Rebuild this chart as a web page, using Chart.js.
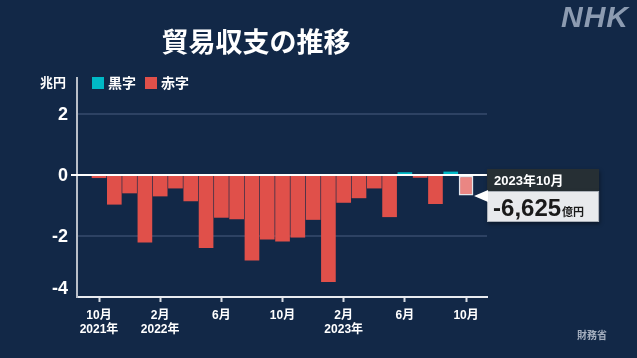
<!DOCTYPE html>
<html><head><meta charset="utf-8">
<script src="https://cdn.jsdelivr.net/npm/chart.js@4.4.1/dist/chart.umd.min.js"></script>
<style>
html,body{margin:0;padding:0;background:#122847;}
#wrap{position:relative;width:637px;height:358px;overflow:hidden;background:#122847;font-family:"Liberation Sans","Noto Sans CJK JP",sans-serif;color:#fff;}
canvas{position:absolute;left:0;top:0;}
.t{position:absolute;white-space:nowrap;font-weight:bold;line-height:1;}
#title{left:0;width:512px;text-align:center;top:27px;font-size:27px;font-family:"Noto Sans CJK JP",sans-serif;}
#nhk{left:561px;top:2px;font-size:30px;font-style:italic;color:#8c9bb1;font-family:"Liberation Sans",Arial,sans-serif;letter-spacing:1px;}
#src{left:577px;top:330px;font-size:10px;color:#a5afbf;font-family:"Noto Sans CJK JP",sans-serif;}
#unit{left:40px;top:75px;font-size:13px;font-family:"Noto Sans CJK JP",sans-serif;}
.sq{position:absolute;width:12px;height:12px;}
.lg{font-size:14px;top:75px;font-family:"Noto Sans CJK JP",sans-serif;}
</style></head>
<body><div id="wrap">
<canvas id="c" width="637" height="358"></canvas>
<div class="t" id="title">貿易収支の推移</div>
<div class="t" id="nhk">NHK</div>
<div class="t" id="src">財務省</div>
<div class="t" id="unit">兆円</div>
<div class="sq" style="left:92px;top:77px;background:#00b9c6"></div>
<div class="t lg" style="left:108px">黒字</div>
<div class="sq" style="left:145px;top:77px;background:#e0504a"></div>
<div class="t lg" style="left:161px">赤字</div>
</div>
<script>
// data (trillion yen)
const months = ['2021年10月','2021年11月','2021年12月','2022年1月','2022年2月','2022年3月','2022年4月','2022年5月','2022年6月','2022年7月','2022年8月','2022年9月','2022年10月','2022年11月','2022年12月','2023年1月','2023年2月','2023年3月','2023年4月','2023年5月','2023年6月','2023年7月','2023年8月','2023年9月','2023年10月'];
const balance = [-0.09,-0.96,-0.59,-2.20,-0.69,-0.43,-0.85,-2.38,-1.39,-1.44,-2.79,-2.10,-2.17,-2.04,-1.46,-3.50,-0.90,-0.75,-0.43,-1.37,0.08,-0.08,-0.94,0.10,-0.6625];
const xTickIndex = [0,4,8,12,16,20,24];
const xTickLabels = [['10月','2021年'],['2月','2022年'],['6月'],['10月'],['2月','2023年'],['6月'],['10月']];
const yTicks = [-4,-2,0,2];

const BG='#122847', TEAL='#00b9c6', RED='#e0504a', HILITE='#ea8683';
const last = balance.length-1;
const FONT = '"Liberation Sans","Noto Sans CJK JP",sans-serif';

const zeroLine = {
  id:'zeroLine',
  afterDatasetsDraw(chart){
    const c=chart.ctx;
    const y=chart.scales.y, a=chart.chartArea;
    const y0=Math.round(y.getPixelForValue(0));
    c.save();c.strokeStyle='#ffffff';c.lineWidth=2;
    c.beginPath();c.moveTo(a.left-6,y0);c.lineTo(a.right,y0);c.stroke();c.restore();
  }
};

const yLabels = {
  id:'yLabels',
  afterDraw(chart){
    const c=chart.ctx, s=chart.scales.y, a=chart.chartArea;
    c.save();c.fillStyle='#fff';c.font='bold 18px '+FONT;c.textAlign='right';c.textBaseline='middle';
    yTicks.forEach(v=>{
      let py=s.getPixelForValue(v);
      if(py>a.bottom-9) py=a.bottom-9;
      c.fillText(String(v),68,py+1);
    });
    c.restore();
  }
};

const callout = {
  id:'callout',
  afterDraw(chart){
    const c=chart.ctx, el=chart.getDatasetMeta(0).data[last];
    const y0=chart.scales.y.getPixelForValue(0);
    const tipX=el.x+el.width/2+1, tipY=y0+21;
    const bx=tipX+13, by=y0-6, bw=112, hh=22, bh=53;
    c.save();
    c.shadowColor='rgba(0,0,0,0.4)';c.shadowBlur=4;c.shadowOffsetX=1;c.shadowOffsetY=2;
    c.fillStyle='#262f34';c.fillRect(bx,by,bw,hh);
    c.fillStyle='#e8eaed';c.fillRect(bx,by+hh,bw,bh-hh);
    c.shadowColor='transparent';
    c.strokeStyle='#aab0b8';c.lineWidth=1;c.strokeRect(bx+0.5,by+hh+0.5,bw-1,bh-hh-1);
    c.fillStyle='#ffffff';
    c.beginPath();c.moveTo(tipX,tipY);c.lineTo(bx+1,tipY-6);c.lineTo(bx+1,tipY+6);c.closePath();c.fill();
    c.fillStyle='#fff';c.font='bold 13px '+FONT;c.textBaseline='middle';c.textAlign='left';
    c.fillText(months[last],bx+7,by+12);
    const oku=Math.round(balance[last]*10000);
    const txt=(oku<0?'-':'')+Math.abs(oku).toLocaleString('en-US');
    c.fillStyle='#1a1a1a';c.font='bold 24px '+FONT;c.textBaseline='alphabetic';
    c.fillText(txt,bx+6,by+hh+25);
    const w=c.measureText(txt).width;
    c.font='bold 11px "Noto Sans CJK JP",sans-serif';
    c.fillText('億円',bx+6+w+1,by+hh+25);
    c.restore();
  }
};

new Chart(document.getElementById('c'),{
  type:'bar',
  data:{datasets:[{
    data:balance.map((v,i)=>({x:i,y:v})),
    backgroundColor:balance.map((v,i)=> i===last?HILITE:(v>=0?TEAL:RED)),
    borderColor:balance.map((v,i)=> i===last?'#e3e6ec':'rgba(0,0,0,0)'),
    borderWidth:balance.map((v,i)=> i===last?1.5:0),
    borderSkipped:false,
    barThickness:14
  }]},
  options:{
    responsive:false,animation:false,
    layout:{padding:{left:0,right:150,top:78,bottom:0}},
    plugins:{legend:{display:false},tooltip:{enabled:false}},
    scales:{
      x:{type:'linear',min:-1.44,max:25.37,offset:false,
        afterBuildTicks:s=>{s.ticks=xTickIndex.map(v=>({value:v}));},
        afterFit:s=>{s.height=61;},
        grid:{drawOnChartArea:false,drawTicks:true,tickLength:5,tickColor:'#d8dce3',tickWidth:2,offset:false},
        border:{color:'#e8ebf0',width:2},
        ticks:{color:'#fff',font:{family:FONT,size:12,weight:'bold'},padding:6,maxRotation:0,autoSkip:false,
          callback:v=>{const k=xTickIndex.indexOf(v);return k>=0?xTickLabels[k]:'';}}
      },
      y:{min:-4,max:3.18,
        afterBuildTicks:s=>{s.ticks=yTicks.map(v=>({value:v}));},
        afterFit:s=>{s.width=77;},
        grid:{drawTicks:false,color:ctx=>(ctx.tick&&(ctx.tick.value===2||ctx.tick.value===-2))?'#2d4263':'rgba(0,0,0,0)',lineWidth:2},
        border:{color:'#b9bfc9',width:2},
        ticks:{display:false}
      }
    }
  },
  plugins:[zeroLine,yLabels,callout]
});
</script>
</body></html>
